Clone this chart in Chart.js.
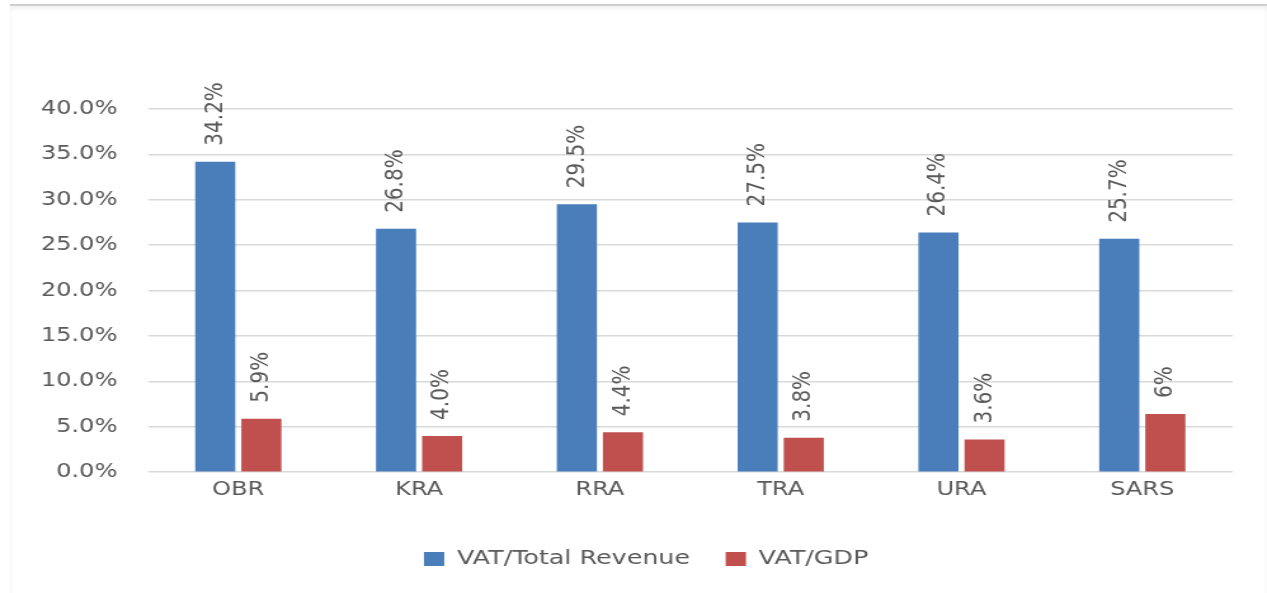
<!DOCTYPE html>
<html>
<head>
<meta charset="utf-8">
<script src="https://cdn.jsdelivr.net/npm/chart.js@4.4.0/dist/chart.umd.min.js"></script>
<style>
  html, body { margin: 0; padding: 0; background: #ffffff; overflow: hidden; }
  #frame { position: absolute; left: 10px; top: 4px; width: 1257px; height: 589px;
           border-top: 2px solid #cfcfcf; box-shadow: inset 0 3px 4px rgba(0,0,0,0.06); }
  #wrap { position: absolute; left: 0; top: 0; width: 998px; height: 593px;
          transform: scaleX(1.2695); transform-origin: 0 0; }
</style>
</head>
<body>
<div id="frame"></div>
<div id="wrap"><canvas id="c" width="998" height="593"></canvas></div>
<script>
const categories = ["OBR", "KRA", "RRA", "TRA", "URA", "SARS"];
const vatTotalRevenue = [34.2, 26.8, 29.5, 27.5, 26.4, 25.7];
const vatGdp = [5.9, 4.0, 4.4, 3.8, 3.6, 6.4];
const vatTotalRevenueLabels = ["34.2%", "26.8%", "29.5%", "27.5%", "26.4%", "25.7%"];
const vatGdpLabels = ["5.9%", "4.0%", "4.4%", "3.8%", "3.6%", "6%"];
const seriesNames = ["VAT/Total Revenue", "VAT/GDP"];

const FONT = "'DejaVu Sans', sans-serif";
const TEXT = "#595959";

const labelPlugin = {
  id: 'barLabels',
  afterDatasetsDraw(chart) {
    const ctx = chart.ctx;
    const allLabels = [vatTotalRevenueLabels, vatGdpLabels];
    chart.data.datasets.forEach((ds, di) => {
      const meta = chart.getDatasetMeta(di);
      meta.data.forEach((bar, i) => {
        ctx.save();
        ctx.translate(bar.x, bar.y - 16);
        ctx.rotate(-Math.PI / 2);
        ctx.font = "20px " + FONT;
        ctx.fillStyle = TEXT;
        ctx.textAlign = 'left';
        ctx.textBaseline = 'middle';
        ctx.fillText(allLabels[di][i], 0, 0);
        ctx.restore();
      });
    });
  }
};

// shift the legend so it is centred like the original (slightly right of canvas centre)
const legendShift = {
  id: 'legendShift',
  afterLayout(chart) {
    const lg = chart.legend;
    if (lg) { lg.left = 47; lg.width = lg.right - 47; }
  }
};

new Chart(document.getElementById('c'), {
  type: 'bar',
  data: {
    labels: categories,
    datasets: [
      { label: seriesNames[0], data: vatTotalRevenue, backgroundColor: '#4a7ebb' },
      { label: seriesNames[1], data: vatGdp, backgroundColor: '#c0504d' }
    ]
  },
  options: {
    responsive: false,
    animation: false,
    devicePixelRatio: 1,
    layout: { padding: { top: 109, right: 27, bottom: 14, left: 0 } },
    datasets: { bar: { categoryPercentage: 0.51, barPercentage: 0.87 } },
    plugins: {
      legend: {
        position: 'bottom',
        labels: { font: { family: FONT, size: 20 }, color: TEXT, boxWidth: 16, boxHeight: 14, padding: 28 }
      },
      tooltip: { enabled: false }
    },
    scales: {
      x: {
        afterFit(scale) { scale.height += 14; },
        grid: { display: false, drawTicks: false },
        border: { display: false },
        ticks: { font: { family: FONT, size: 19 }, color: TEXT, padding: 6 }
      },
      y: {
        min: 0, max: 40,
        afterFit(scale) { scale.width = 116.5; },
        grid: { color: '#d9d9d9', lineWidth: 1.5, drawTicks: false },
        border: { display: false },
        ticks: {
          stepSize: 5,
          font: { family: FONT, size: 19 }, color: TEXT, padding: 24,
          callback: v => v.toFixed(1) + '%'
        }
      }
    }
  },
  plugins: [labelPlugin, legendShift]
});
</script>
</body>
</html>
